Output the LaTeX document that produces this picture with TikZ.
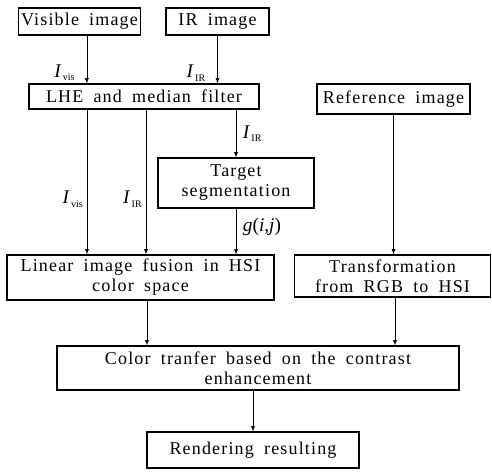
\documentclass[tikz,border=0pt]{standalone}
\usepackage{fontspec}
\setmainfont{Liberation Serif}
\newfontfamily\boxfont[LetterSpace=6.5,WordSpace=1.8]{Liberation Serif}
\newcommand{\imgsym}[1]{\textit{I}\kern1pt\raisebox{-0.4ex}{\fontsize{7.5}{8}\selectfont #1}}
\begin{document}
\begin{tikzpicture}[x=0.75pt,y=-0.75pt,>=latex]
        \tikzset{box/.style={draw=black,thick,inner sep=2pt,align=center,font=\boxfont\fontsize{13.5}{15}\selectfont},
                 lbl/.style={font=\fontsize{14.5}{15}\selectfont,inner sep=1pt}}
        \useasboundingbox (0,0) rectangle (492,471);

        \node[box,minimum width=86.25pt,minimum height=20.25pt] (vis) at (79.5,21.5) {Visible image};
        \node[box,minimum width=77.25pt,minimum height=20.25pt] (ir) at (217.5,21.5) {IR image};
        \node[box,minimum width=172.5pt,minimum height=18.75pt] (lhe) at (144,96.5) {LHE and median filter};
        \node[box,minimum width=114.75pt,minimum height=22.5pt] (ref) at (393.5,99) {Reference image};
        \node[box,minimum width=117pt,minimum height=37.5pt] (tgt) at (236,183) {Target\\segmentation};
        \node[box,minimum width=200.25pt,minimum height=33.75pt] (fus) at (140.5,277.5) {Linear image fusion in HSI\\color space};
        \node[box,minimum width=147pt,minimum height=31.5pt] (trn) at (392.5,276) {Transformation\\from RGB to HSI};
        \node[box,minimum width=301.5pt,minimum height=33pt] (col) at (258,368) {Color tranfer based on the contrast\\enhancement};
        \node[box,minimum width=159pt,minimum height=27pt] (ren) at (253,450) {Rendering resulting};

        \draw[->] ([xshift=5.5]vis.south) -- ([xshift=5.5]vis.south |- lhe.north) node[lbl,pos=0.78,left=8pt] {\imgsym{vis}};
        \draw[->] (ir) -- (ir |- lhe.north) node[lbl,pos=0.78,left=8pt] {\imgsym{IR}};
        \draw[->] (tgt |- lhe.south) -- (tgt) node[lbl,pos=0.5,right=4pt] {\imgsym{IR}};
        \draw[->] (lhe.south -| 87,0) -- (fus.north -| 87,0) node[lbl,pos=0.62,left=2pt] {\imgsym{vis}};
        \draw[->] (lhe.south -| 146,0) -- (fus.north -| 146,0) node[lbl,pos=0.62,left=2pt] {\imgsym{IR}};
        \draw[->] (tgt) -- (tgt |- fus.north) node[lbl,pos=0.4,right=4pt] {\textit{g}(\textit{i},\textit{j})};
        \draw[->] (ref) -- (ref |- trn.north);
        \draw[->] (fus.south -| 147,0) -- (col.north -| 147,0);
        \draw[->] (trn.south -| 395,0) -- (col.north -| 395,0);
        \draw[->] (col.south -| ren) -- (ren);
    \end{tikzpicture}
\end{document}
